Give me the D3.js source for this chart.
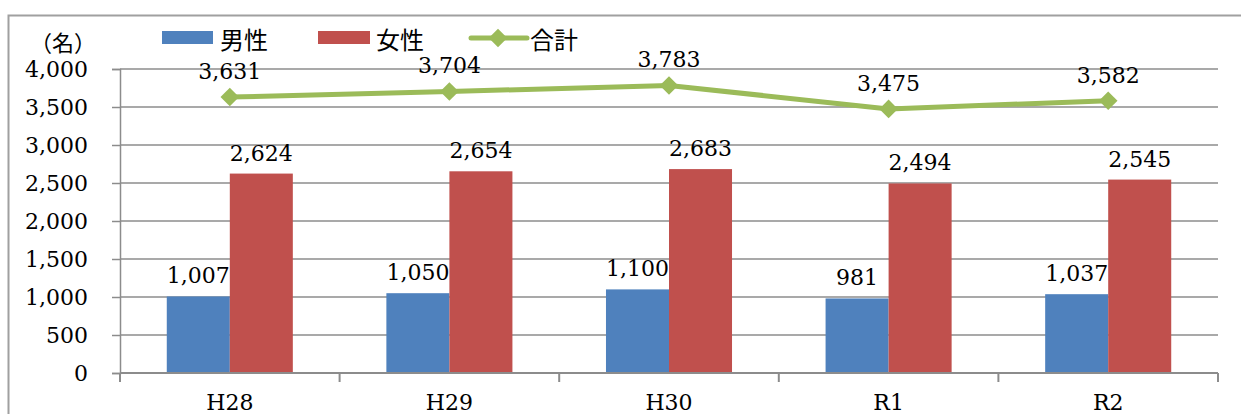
<!DOCTYPE html>
<html>
<head>
<meta charset="utf-8">
<script src="https://cdn.jsdelivr.net/npm/d3@7"></script>
<style>
  body { margin: 0; background: #fff; }
  svg { display: block; }
</style>
</head>
<body>
<div id="chart"></div>
<script>
  const years = ["H28", "H29", "H30", "R1", "R2"]
  const male = [1007, 1050, 1100, 981, 1037]
  const female = [2624, 2654, 2683, 2494, 2545]
  const total = [3631, 3704, 3783, 3475, 3582]
  const yTicks = [0, 500, 1000, 1500, 2000, 2500, 3000, 3500, 4000]
  const seriesNames = ["男性", "女性", "合計"]

  const width = 1241
  const height = 414
  const margin = { top: 69, bottom: 41, left: 120, right: 23 }
  const colors = { male: "#4f81bd", female: "#c0504d", total: "#9bbb59" }
  const numFont = "'DejaVu Serif', serif"
  const jpFont = "'Noto Sans CJK JP', sans-serif"
  const grid = "#8c8c8c"
  const fmt = d3.format(",")

  const svg = d3.select("#chart")
    .append("svg")
    .attr("width", width)
    .attr("height", height)

  // outer frame (runs off the right and bottom of the picture)
  svg.append("rect")
    .attr("x", 8.5).attr("y", 15.5)
    .attr("width", 1300).attr("height", 500)
    .attr("fill", "none")
    .attr("stroke", "#a0a0a0")
    .attr("stroke-width", 2)

  const x = d3.scaleBand()
    .domain(years)
    .range([margin.left, width - margin.right])
    .padding(0)

  const barW = x.bandwidth() * 0.287
  const xs = d3.scaleBand()
    .domain(["male", "female"])
    .range([-barW, barW])

  const y = d3.scaleLinear()
    .domain([0, 4000])
    .range([height - margin.bottom, margin.top])

  // gridlines
  svg.append("g")
    .selectAll("line")
    .data(yTicks.slice(1))
    .join("line")
      .attr("x1", margin.left).attr("x2", width - margin.right)
      .attr("y1", d => y(d)).attr("y2", d => y(d))
      .attr("stroke", grid)
      .attr("stroke-width", 1.5)

  // y axis
  const yAxis = svg.append("g")
    .attr("transform", `translate(${margin.left},0)`)
    .call(d3.axisLeft(y).tickValues(yTicks).tickFormat(fmt).tickSize(8).tickPadding(24))
  yAxis.select(".domain").attr("stroke", grid).attr("stroke-width", 1.5)
  yAxis.selectAll(".tick line").attr("stroke", grid).attr("stroke-width", 1.5)
  yAxis.selectAll("text")
    .attr("font-family", numFont)
    .attr("font-size", 22)
    .attr("fill", "#000")

  // bars
  const groups = svg.append("g")
    .selectAll("g")
    .data(years)
    .join("g")
      .attr("transform", d => `translate(${x(d) + x.bandwidth() / 2},0)`)

  const barData = (d, i) => [
    { key: "male", v: male[i] },
    { key: "female", v: female[i] }
  ]

  groups.selectAll("rect")
    .data(barData)
    .join("rect")
      .attr("x", d => xs(d.key))
      .attr("y", d => y(d.v))
      .attr("width", xs.bandwidth())
      .attr("height", d => y(0) - y(d.v))
      .attr("fill", d => colors[d.key])

  groups.selectAll("text")
    .data(barData)
    .join("text")
      .attr("x", d => xs(d.key) + xs.bandwidth() / 2)
      .attr("y", d => y(d.v) - 13)
      .attr("text-anchor", "middle")
      .attr("font-family", numFont)
      .attr("font-size", 22)
      .text(d => fmt(d.v))

  // x axis
  const xAxis = svg.append("g")
    .attr("transform", `translate(0,${y(0)})`)
  xAxis.append("line")
    .attr("x1", margin.left).attr("x2", width - margin.right)
    .attr("stroke", grid).attr("stroke-width", 2)
  xAxis.selectAll(".tk")
    .data(years.concat(["end"]))
    .join("line")
      .attr("class", "tk")
      .attr("x1", (d, i) => margin.left + i * x.bandwidth())
      .attr("x2", (d, i) => margin.left + i * x.bandwidth())
      .attr("y1", 0).attr("y2", 9)
      .attr("stroke", grid).attr("stroke-width", 2)
  xAxis.selectAll("text")
    .data(years)
    .join("text")
      .attr("x", d => x(d) + x.bandwidth() / 2)
      .attr("y", 37)
      .attr("text-anchor", "middle")
      .attr("font-family", numFont)
      .attr("font-size", 22)
      .text(d => d)

  // total line
  const line = d3.line()
    .x((d, i) => x(years[i]) + x.bandwidth() / 2)
    .y(d => y(d))

  svg.append("path")
    .datum(total)
    .attr("d", line)
    .attr("fill", "none")
    .attr("stroke", colors.total)
    .attr("stroke-width", 5)
    .attr("stroke-linejoin", "round")
    .attr("stroke-linecap", "round")

  const diamond = d3.symbol().type(d3.symbolDiamond2).size(220)

  svg.append("g")
    .selectAll("path")
    .data(total)
    .join("path")
      .attr("transform", (d, i) => `translate(${x(years[i]) + x.bandwidth() / 2},${y(d)})`)
      .attr("d", diamond)
      .attr("fill", colors.total)

  svg.append("g")
    .selectAll("text")
    .data(total)
    .join("text")
      .attr("x", (d, i) => x(years[i]) + x.bandwidth() / 2)
      .attr("y", d => y(d) - 18)
      .attr("text-anchor", "middle")
      .attr("font-family", numFont)
      .attr("font-size", 22)
      .text(d => fmt(d))

  // unit label
  svg.append("text")
    .attr("x", 63).attr("y", 41)
    .attr("text-anchor", "middle")
    .attr("dominant-baseline", "central")
    .attr("font-family", jpFont)
    .attr("font-size", 22)
    .text("（名）")

  // legend
  const legend = svg.append("g").attr("transform", "translate(0,38)")
  const legX = [162, 318, 471]

  legend.append("rect")
    .attr("x", legX[0]).attr("y", -7).attr("width", 51).attr("height", 13)
    .attr("fill", colors.male)
  legend.append("rect")
    .attr("x", legX[1]).attr("y", -7).attr("width", 52).attr("height", 13)
    .attr("fill", colors.female)
  legend.append("line")
    .attr("x1", legX[2]).attr("x2", legX[2] + 56)
    .attr("stroke", colors.total).attr("stroke-width", 5)
    .attr("stroke-linecap", "round")
  legend.append("path")
    .attr("transform", `translate(${legX[2] + 27},0)`)
    .attr("d", diamond)
    .attr("fill", colors.total)

  legend.selectAll("text")
    .data(seriesNames)
    .join("text")
      .attr("x", (d, i) => [220, 376, 530][i])
      .attr("y", 0)
      .attr("dominant-baseline", "central")
      .attr("font-family", jpFont)
      .attr("font-size", 24)
      .text(d => d)
</script>
</body>
</html>
